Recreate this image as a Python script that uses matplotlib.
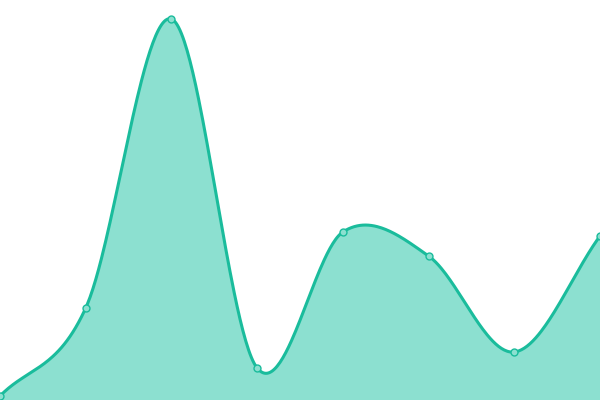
import numpy as np
import matplotlib
matplotlib.use("Agg")
import matplotlib.pyplot as plt

categories = [0, 1, 2, 3, 4, 5, 6, 7]
values = [4, 92, 381, 32, 168, 144, 48, 164]

LINE = "#1abc9c"
FILL = "#8ce0d0"


def catmull_rom(x, y, n=60):
    x = np.asarray(x, float)
    y = np.asarray(y, float)
    px = np.concatenate([[2 * x[0] - x[1]], x, [2 * x[-1] - x[-2]]])
    py = np.concatenate([[2 * y[0] - y[1]], y, [2 * y[-1] - y[-2]]])
    xs, ys = [], []
    for i in range(1, len(px) - 2):
        t = np.linspace(0, 1, n, endpoint=False)
        mx0 = (px[i + 1] - px[i - 1]) / 2
        mx1 = (px[i + 2] - px[i]) / 2
        my0 = (py[i + 1] - py[i - 1]) / 2
        my1 = (py[i + 2] - py[i]) / 2
        h00 = 2 * t**3 - 3 * t**2 + 1
        h10 = t**3 - 2 * t**2 + t
        h01 = -2 * t**3 + 3 * t**2
        h11 = t**3 - t**2
        xs.append(h00 * px[i] + h10 * mx0 + h01 * px[i + 1] + h11 * mx1)
        ys.append(h00 * py[i] + h10 * my0 + h01 * py[i + 1] + h11 * my1)
    xs.append([x[-1]])
    ys.append([y[-1]])
    return np.concatenate(xs), np.concatenate(ys)


fig = plt.figure(figsize=(6, 4), dpi=100)
ax = fig.add_axes([0, 0, 1, 1])
sx, sy = catmull_rom(categories, values)
ax.fill_between(sx, sy, 0, color=FILL, linewidth=0)
ax.plot(sx, sy, color=LINE, linewidth=2.2, solid_capstyle="round")
ax.plot(categories, values, "o", markersize=5, markerfacecolor=FILL,
        markeredgecolor=LINE, markeredgewidth=1)
ax.set_xlim(0, 7)
ax.set_ylim(0, 400)
ax.axis("off")
fig.savefig("out.png", dpi=100)
